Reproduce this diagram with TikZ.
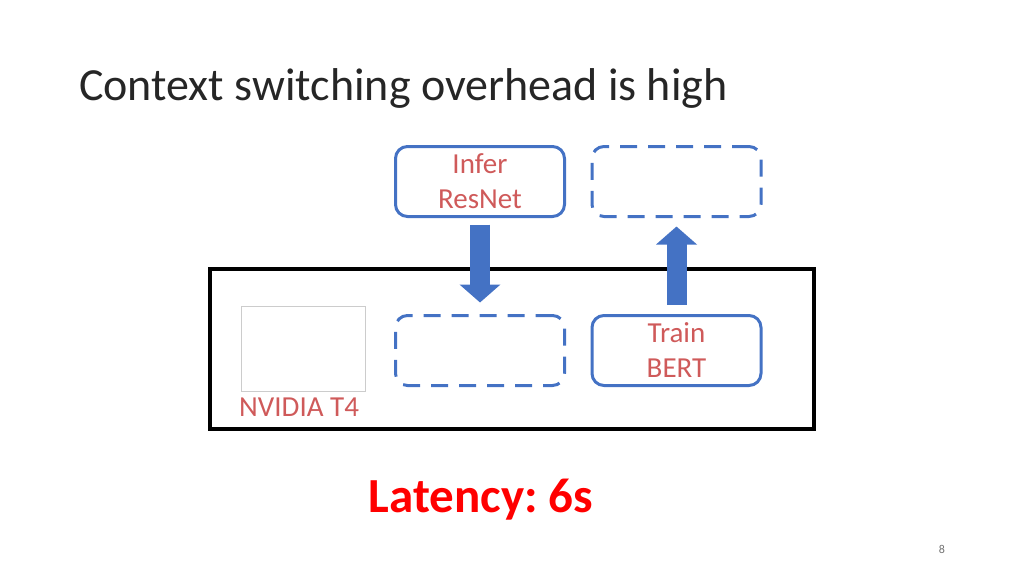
\documentclass[tikz,border=0pt]{standalone}
\usepackage{fontspec}
\setmainfont{Carlito}
\usetikzlibrary{arrows.meta}
\definecolor{boxblue}{HTML}{4472C4}
\definecolor{txtred}{HTML}{CF5A5A}
\frenchspacing
\tikzset{
  px/.style={x=1pt,y=-1pt},
  solidbox/.style={draw=boxblue, line width=3pt, rounded corners=12pt, minimum width=169pt, minimum height=70pt, inner sep=0pt, text=txtred, align=center, font=\fontsize{29}{35}\selectfont},
  dashbox/.style={solidbox, dash pattern=on 17pt off 11pt},
  blockarrow/.style={draw=boxblue, line width=20pt, -{Triangle[width=40pt,length=18pt,fill=boxblue]}},
}
\begin{document}
\begin{tikzpicture}[px]
\useasboundingbox (0,0) rectangle (1024,576);
\node[anchor=base west, font=\fontsize{46}{52}\selectfont, text=black!85, inner sep=0pt] (title) at (79,100) {Context switching overhead is high};
\node[draw=black, line width=4pt, minimum width=604pt, minimum height=160pt, inner sep=0pt] (gpu) at (512,349) {};
\node[solidbox] (infer) at (480,181.5) {Infer\\ResNet};
\node[dashbox] (dtop) at (676.5,181.5) {};
\node[dashbox] (dbot) at (480,350.5) {};
\node[solidbox] (train) at (676.5,350.5) {Train\\BERT};
\node[draw=black!20, line width=0.8pt, minimum width=124pt, minimum height=85pt, inner sep=0pt] (chip) at (303,348.5) {};
\node[text=txtred, font=\fontsize{29}{33}\selectfont, anchor=base west, inner sep=0pt] (t4) at (239,416) {NVIDIA T4};
\draw[blockarrow, shorten <=6.5pt, shorten >=11.5pt] (infer.south) -- (dbot.north);
\draw[blockarrow, shorten <=9.5pt, shorten >=8.5pt] (train.north) -- (dtop.south);
\node[text=red, font=\bfseries\fontsize{49}{54}\selectfont, inner sep=0pt] (lat) at (481,500) {Latency: 6s};
\node[text=black!55, font=\fontsize{12}{14}\selectfont, inner sep=0pt] (pg) at (942,549) {8};
\end{tikzpicture}
\end{document}
